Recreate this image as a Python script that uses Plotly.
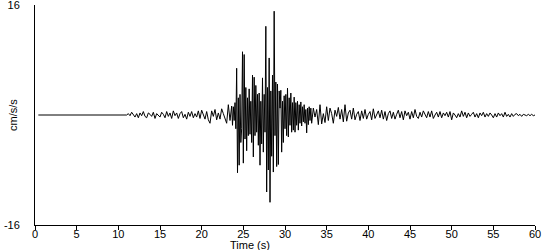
import numpy as np
import plotly.graph_objects as go

# --- data (cm/s/s) ---
pre_t = [0.4, 10.8]
pre_v = [0.0, 0.0]

quiet_t0, quiet_dt = 11.0, 0.2
quiet_v = [
    0.0, 0.2, -0.1, 0.4, 0.1, -0.3, 0.2, -0.4, 0.3, -0.1,
    0.5, -0.2, -0.4, 0.3, 0.1, -0.2, 0.4, -0.5, 0.2, 0.0,
    -0.3, 0.4, 0.1, -0.4, 0.5, -0.2, 0.3, -0.5, 0.6, -0.1,
    0.3, -0.5, 0.2, 0.5, -0.4, 0.1, -0.6, 0.4, -0.2, 0.5,
    -0.4, 0.2, -0.3, 0.6, -0.5, 0.7, 0.1, -0.6, 0.5, -0.7,
    -1.2, 0.6, -0.2, 0.8, -0.7, 0.3, -0.6, 0.9, 0.2, -0.5,
    -1.2, 1.5, -0.8, 1.3,
]

burst_t0, burst_dt = 23.7, 0.1
burst_v = [
    -1.5, 1.2, -0.8, 1.8, -2.0, 6.8, -8.4, 2.5, -7.3, 3.0,
    -4.0, -2.0, 9.2, -7.0, 8.8, -3.5, 4.0, -5.2, 2.5, -3.0,
    3.8, -2.8, 2.0, -4.0, 5.8, -6.1, 5.5, -3.0, 4.3, -2.5,
    3.0, -4.4, 3.2, -7.3, 2.0, -4.2, 5.4, -5.4, 3.0, -2.5,
    12.9, -11.2, 4.0, -8.0, 8.3, -12.7, 3.5, -6.0, 5.8, -8.3,
    15.1, -3.0, 4.8, -7.5, 4.5, -7.2, 3.5, 1.0, 3.6, -5.4,
    2.0, -4.0, 2.8, -2.0, 3.0, -3.0, 3.9, -3.2, 2.5, -1.5,
    3.2, -2.5, 1.8, -2.2, 2.6, -2.5, 1.8, -1.5, 2.0, -2.2,
    1.5, -1.2, 1.9, -1.6, 1.2, -1.0, 1.5, -1.2, 0.8, -2.6,
    1.0, -1.4, 1.2, -0.8, 1.0,
]

coda_t0, coda_dt = 33.2, 0.2
coda_v = [
    -1.2, 1.0, -0.3, 0.8, -1.4, 1.5, -1.3, 0.2, -1.1, 1.2,
    -0.8, 1.0, 0.2, -1.2, 0.7, -0.2, 1.1, -0.6, 0.8, -1.0,
    1.5, -0.9, 0.3, 0.7, -0.6, 1.0, -0.7, 0.1, 0.5, -0.8,
    0.6, -0.5, 0.8, -0.6, 0.1, 0.5, -0.7, 0.9, -0.5, 0.0,
    0.6, -0.4, 0.7, -0.6, 0.5, -0.8, 0.2, 0.6, -0.5, 0.4,
    -0.6, 0.1, 0.7, -0.4, 0.5, -0.7, 0.6, -0.1, 0.4, -0.6,
    0.5, -0.4, 0.8, -0.2, -0.5, 0.4, -0.3, 0.6, 0.1, -0.4,
    0.5, -0.3, 0.6, -0.5, 0.0, 0.4, -0.3, 0.5, -0.4, 0.3,
    -0.1, 0.4, -0.3, 0.5, -0.7, 0.3, 0.0, -0.4, 0.2, -0.3,
    0.6, -0.2, 0.4, -0.4, 0.3, -0.2, 0.1, 0.4, -0.3, 0.2,
    -0.4, 0.3, -0.1, 0.4, -0.3, 0.2, -0.2, 0.3, 0.0, -0.4,
    0.2, -0.3, 0.3, -0.1, 0.2, -0.3, 0.4, -0.2, 0.1, -0.3,
    0.2, -0.2, 0.1, 0.2, -0.1, 0.1, -0.2, 0.1, 0.0, -0.1,
    0.1, -0.1, 0.1, -0.1, 0.0,
]

x_ticks = [0, 5, 10, 15, 20, 25, 30, 35, 40, 45, 50, 55, 60]
y_ticks = [-16, 16]
x_title = "Time (s)"
y_title = "cm/s/s"


def seg(t0, dt, vals):
    return list(np.round(t0 + dt * np.arange(len(vals)), 3))


t = pre_t + seg(quiet_t0, quiet_dt, quiet_v) + seg(burst_t0, burst_dt, burst_v) + seg(coda_t0, coda_dt, coda_v)
v = pre_v + quiet_v + burst_v + coda_v

FONT = "Liberation Sans, Arial, sans-serif"

fig = go.Figure(go.Scatter(x=t, y=v, mode="lines",
                           line=dict(color="black", width=1), hoverinfo="skip"))

fig.update_layout(
    width=550, height=250,
    margin=dict(l=35, r=15, t=5, b=25, autoexpand=False),
    paper_bgcolor="white", plot_bgcolor="white",
    showlegend=False,
    font=dict(family=FONT, size=11, color="black"),
    xaxis=dict(range=[0, 60], tickvals=x_ticks, ticktext=[str(k) for k in x_ticks],
               showline=True, linecolor="black", linewidth=1,
               ticks="outside", ticklen=4, tickcolor="black",
               ticklabelstandoff=-5, ticklabeloverflow="allow", automargin=False,
               showgrid=False, zeroline=False, fixedrange=True),
    yaxis=dict(range=[-16, 16], tickvals=y_ticks, ticktext=[str(k) for k in y_ticks],
               showline=True, linecolor="black", linewidth=1,
               ticks="", ticklabelstandoff=12, ticklabeloverflow="allow", automargin=False,
               showgrid=False, zeroline=False, fixedrange=True),
    annotations=[
        dict(text=x_title, xref="paper", yref="paper", x=0.43, y=0,
             yshift=-12, xanchor="center", yanchor="top", showarrow=False,
             font=dict(family=FONT, size=11)),
        dict(text=y_title, xref="paper", yref="paper", x=0, xshift=-22, y=0.5,
             textangle=-90, xanchor="center", yanchor="middle", showarrow=False,
             font=dict(family=FONT, size=11)),
    ],
)

fig.write_html("out.html")
